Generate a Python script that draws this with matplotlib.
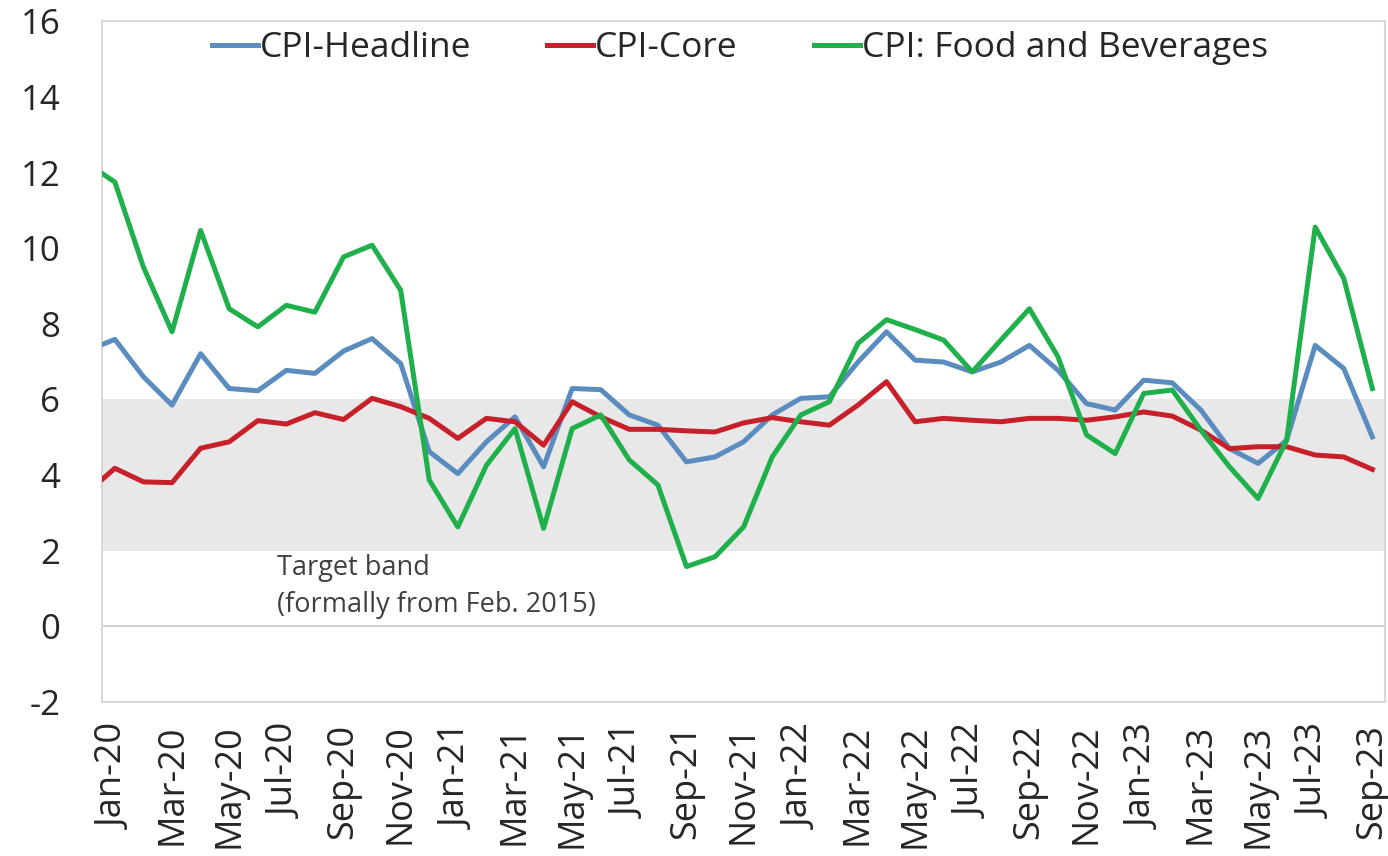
import matplotlib
matplotlib.use("Agg")
import matplotlib.pyplot as plt

plt.rcParams['font.family'] = ['Open Sans', 'DejaVu Sans']

# months: Dec-19 (clipped at the left edge) then Jan-20 .. Sep-23
months = ["Dec-19",
          "Jan-20", "Feb-20", "Mar-20", "Apr-20", "May-20", "Jun-20", "Jul-20", "Aug-20", "Sep-20", "Oct-20", "Nov-20", "Dec-20",
          "Jan-21", "Feb-21", "Mar-21", "Apr-21", "May-21", "Jun-21", "Jul-21", "Aug-21", "Sep-21", "Oct-21", "Nov-21", "Dec-21",
          "Jan-22", "Feb-22", "Mar-22", "Apr-22", "May-22", "Jun-22", "Jul-22", "Aug-22", "Sep-22", "Oct-22", "Nov-22", "Dec-22",
          "Jan-23", "Feb-23", "Mar-23", "Apr-23", "May-23", "Jun-23", "Jul-23", "Aug-23", "Sep-23"]

headline = [7.28,
            7.59, 6.60, 5.85, 7.21, 6.29, 6.23, 6.77, 6.69, 7.28, 7.61, 6.95, 4.62,
            4.04, 4.88, 5.54, 4.22, 6.29, 6.26, 5.59, 5.32, 4.35, 4.48, 4.88, 5.59,
            6.03, 6.07, 6.99, 7.79, 7.04, 6.99, 6.73, 6.99, 7.43, 6.77, 5.89, 5.72,
            6.51, 6.44, 5.72, 4.70, 4.31, 4.92, 7.43, 6.82, 5.01]

core = [3.52,
        4.18, 3.82, 3.80, 4.71, 4.88, 5.44, 5.35, 5.65, 5.47, 6.03, 5.81, 5.50,
        4.97, 5.50, 5.41, 4.79, 5.94, 5.54, 5.21, 5.21, 5.17, 5.14, 5.38, 5.52,
        5.41, 5.32, 5.85, 6.47, 5.41, 5.50, 5.45, 5.41, 5.50, 5.50, 5.45, 5.54,
        5.67, 5.56, 5.19, 4.70, 4.75, 4.75, 4.53, 4.48, 4.15]

food = [12.26,
        11.75, 9.50, 7.79, 10.47, 8.40, 7.92, 8.49, 8.31, 9.77, 10.08, 8.89, 3.87,
        2.63, 4.26, 5.23, 2.59, 5.23, 5.59, 4.40, 3.74, 1.58, 1.84, 2.63, 4.48,
        5.59, 5.94, 7.48, 8.11, 7.85, 7.57, 6.73, 7.57, 8.40, 7.13, 5.06, 4.57,
        6.16, 6.25, 5.19, 4.22, 3.38, 4.92, 10.56, 9.20, 6.29]

band_low, band_high = 2, 6
y_ticks = [-2, 0, 2, 4, 6, 8, 10, 12, 14, 16]

x = list(range(-1, len(months) - 1))

fig = plt.figure(figsize=(13.88, 8.56), dpi=100)
ax = fig.add_axes([0.0735, 0.18, 0.9245, 0.795])

ax.axhspan(band_low, band_high, color="#e8e8e8", zorder=0, lw=0)
ax.axhline(0, color="#d0d0d0", lw=1.5, zorder=1)

ax.plot(x, headline, color="#5b8cc0", lw=3.6, label="CPI-Headline", zorder=3, solid_joinstyle="round")
ax.plot(x, core, color="#c8202a", lw=3.6, label="CPI-Core", zorder=3, solid_joinstyle="round")
ax.plot(x, food, color="#1fb04c", lw=3.6, label="CPI: Food and Beverages", zorder=4, solid_joinstyle="round")

ax.text(5.66, 1.9, "Target band\n(formally from Feb. 2015)", fontsize=19.5, color="#404040",
        va="top", ha="left", linespacing=1.4)

ax.set_xlim(-0.45, 44.45)
ax.set_ylim(-2, 16)
ax.set_yticks(y_ticks)
ax.set_yticklabels([str(t) for t in y_ticks], fontsize=25, color="#262626")

xt = list(range(0, 45, 2))
ax.set_xticks(xt)
ax.set_xticklabels([months[i + 1] for i in xt], rotation=90, fontsize=26, color="#262626")
ax.tick_params(length=0, pad=16)
ax.tick_params(axis="y", pad=30)

for s in ax.spines.values():
    s.set_color("#d9d9d9")
    s.set_linewidth(1.5)

ax.legend(loc="upper center", bbox_to_anchor=(0.497, 1.032), ncol=3, frameon=False,
          fontsize=25.5, handlelength=1.3, handletextpad=0.05, columnspacing=2.15,
          labelcolor="#262626")

fig.savefig("out.png", dpi=100)
